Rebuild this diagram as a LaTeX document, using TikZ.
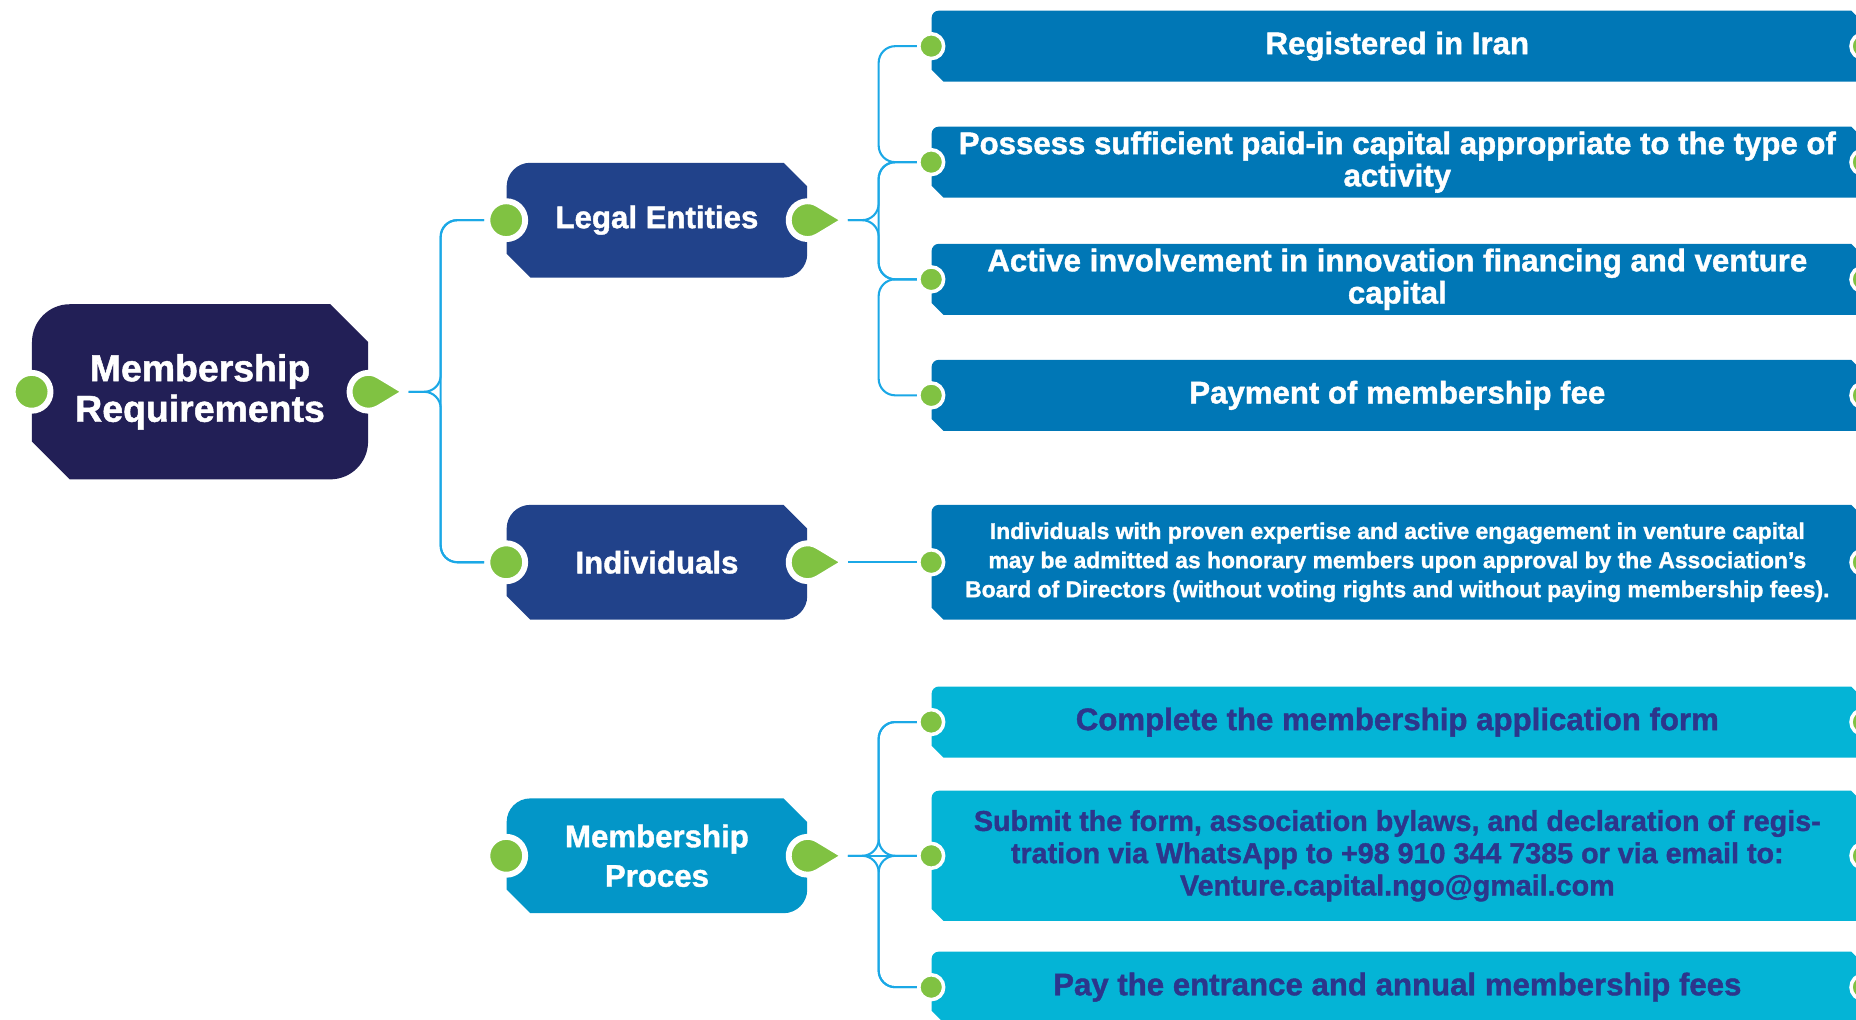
\documentclass[tikz,border=0pt]{standalone}
\usepackage{fontspec}
\setmainfont{Liberation Sans}[BoldFeatures={FakeBold=1.3}]
\usetikzlibrary{positioning,backgrounds}
\definecolor{rootcol}{RGB}{34,31,86}
\definecolor{subcol}{RGB}{33,66,138}
\definecolor{proccol}{RGB}{3,150,200}
\definecolor{leafcol}{RGB}{0,119,182}
\definecolor{stepcol}{RGB}{4,180,214}
\definecolor{steptext}{RGB}{44,54,140}
\definecolor{dotcol}{RGB}{128,194,66}
\definecolor{linkcol}{RGB}{27,168,230}
\begin{document}
\begin{tikzpicture}[x=0.02cm, y=-0.02cm,
tagbox/.style n args={3}{rectangle, inner sep=0pt, align=center, text=white,
  path picture={\fill[#1] ([yshift=#3]path picture bounding box.south west) -- ([yshift=-#2]path picture bounding box.north west) arc[start angle=180, end angle=90, radius=#2] -- ([xshift=-#3]path picture bounding box.north east) -- ([yshift=-#3]path picture bounding box.north east) -- ([yshift=#2]path picture bounding box.south east) arc[start angle=0, end angle=-90, radius=#2] -- ([xshift=#3]path picture bounding box.south west) -- cycle;}},
root node/.style={tagbox={rootcol}{0.64cm}{0.64cm}, minimum width=5.68cm, minimum height=2.96cm, font=\fontsize{18}{19.5}\selectfont\bfseries},
branch node/.style={tagbox={#1}{0.4cm}{0.4cm}, minimum width=5.08cm, minimum height=1.94cm, font=\fontsize{15}{19}\selectfont\bfseries},
leaf node/.style={tagbox={#1}{0.12cm}{0.2cm}, minimum width=15.74cm, minimum height=1.2cm, font=\fontsize{15}{15.5}\selectfont\bfseries},
big dot/.style={circle, fill=dotcol, draw=white, line width=0.1cm, minimum size=0.64cm, inner sep=0pt},
small dot/.style={circle, fill=dotcol, draw=white, line width=0.06cm, minimum size=0.42cm, inner sep=0pt},
link/.style={draw=linkcol, line width=1pt, rounded corners=0.28cm}]
\useasboundingbox (0,0) rectangle (1568,861);
\begin{scope}
\node[root node] (root) at (169,331) {Membership\\Requirements};
\node[branch node=subcol] (le) at (555,186) {Legal Entities};
\node[branch node=subcol] (in) at (555,475) {Individuals};
\node[branch node=proccol] (pr) at (555,723) {Membership\\Proces};
\end{scope}
\begin{scope}
\node[leaf node=leafcol] (b1) at (1180.5,39) {Registered in Iran\vphantom{y}};
\node[leaf node=leafcol] (b2) at (1180.5,137) {Possess sufficient paid-in capital appropriate to the type of\\activity};
\node[leaf node=leafcol] (b3) at (1180.5,236) {Active involvement in innovation financing and venture\\capital};
\node[leaf node=leafcol] (b4) at (1180.5,334) {Payment of membership fee};
\node[leaf node=leafcol, minimum height=1.94cm, font=\fontsize{11}{14}\selectfont\bfseries] (b5) at (1180.5,475) {Individuals with proven expertise and active engagement in venture capital\\may be admitted as honorary members upon approval by the Association's\\Board of Directors (without voting rights and without paying membership fees).};
\node[leaf node=stepcol, text=steptext] (c1) at (1180.5,610) {Complete the membership application form};
\node[leaf node=stepcol, text=steptext, minimum height=2.2cm, font=\fontsize{13.8}{15.5}\selectfont\bfseries] (c2) at (1180.5,723) {Submit the form, association bylaws, and declaration of regis-\\tration via WhatsApp to +98 910 344 7385 or via email to:\\Venture.capital.ngo@gmail.com};
\node[leaf node=stepcol, text=steptext] (c3) at (1180.5,834) {Pay the entrance and annual membership fees};
\end{scope}
% dots and pointers
\foreach \n in {root,le,in,pr} {
  \node[big dot] (\n-in) at (\n.west) {};
  \filldraw[fill=dotcol, draw=white, line width=0.1cm, line join=round] ([xshift=0.62cm]\n.east) -- ([shift={(59:0.32cm)}]\n.east) arc[start angle=59, end angle=301, radius=0.32cm] -- cycle;
  \coordinate (\n-tip) at ([xshift=0.68cm]\n.east);
}
\foreach \n in {b1,b2,b3,b4,b5,c1,c2,c3} {
  \node[small dot] (\n-in) at (\n.west) {};
  \node[small dot] (\n-out) at (\n.east) {};
}
\begin{scope}[on background layer]
\coordinate (bus1) at ([xshift=0.54cm]root-tip);
\coordinate (bus2) at ([xshift=0.52cm]le-tip);
\coordinate (bus3) at ([xshift=0.52cm]pr-tip);
\draw[link] (root-tip) -| (bus1 |- le-in) -- (le-in);
\draw[link] (root-tip) -| (bus1 |- in-in) -- (in-in);
\draw[link] (le-in) -| (bus1 |- in-in) -- (in-in);
\draw[link] (le-tip) -| (bus2 |- b2-in) -- (b2-in);
\draw[link] (le-tip) -| (bus2 |- b3-in) -- (b3-in);
\draw[link] (b1-in) -| (bus2 |- b2-in) -- (b2-in);
\draw[link] (b2-in) -| (bus2 |- b3-in) -- (b3-in);
\draw[link] (b3-in) -| (bus2 |- b4-in) -- (b4-in);
\draw[link] (in-tip) -- (b5-in);
\draw[link] (pr-tip) -- (c2-in);
\draw[link] (pr-tip) -| (bus3 |- c1-in) -- (c1-in);
\draw[link] (pr-tip) -| (bus3 |- c3-in) -- (c3-in);
\draw[link] (c1-in) -| (bus3 |- c2-in) -- (c2-in);
\draw[link] (c2-in) -| (bus3 |- c3-in) -- (c3-in);
%\draw[link] (b4-in) -| (bus2 |- b5-in) -- (b5-in);
\end{scope}
\end{tikzpicture}
\end{document}
